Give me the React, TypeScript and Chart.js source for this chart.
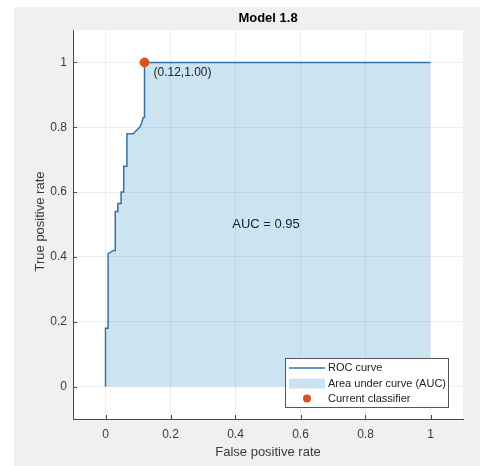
import React, { useEffect, useRef } from 'react';
import { Chart, registerables } from 'chart.js';

Chart.register(...registerables);

// ROC curve vertices (false positive rate, true positive rate)
const FPR = [0, 0, 0.008, 0.008, 0.025, 0.03, 0.03, 0.038, 0.038, 0.048, 0.048, 0.056, 0.056, 0.066, 0.066, 0.085, 0.095, 0.105, 0.11, 0.116, 0.12, 0.12, 1.0];
const TPR = [0, 0.18, 0.18, 0.41, 0.42, 0.42, 0.54, 0.54, 0.565, 0.565, 0.6, 0.6, 0.68, 0.68, 0.78, 0.78, 0.79, 0.8, 0.81, 0.83, 0.83, 1.0, 1.0];

// Current classifier operating point
const CLASSIFIER_FPR = [0.12];
const CLASSIFIER_TPR = [1.0];

const AUC_VALUE = 0.95;
const TITLE = 'Model 1.8';
const X_LABEL = 'False positive rate';
const Y_LABEL = 'True positive rate';
const X_TICKS = [0, 0.2, 0.4, 0.6, 0.8, 1];
const X_TICK_LABELS = ['0', '0.2', '0.4', '0.6', '0.8', '1'];
const Y_TICKS = [0, 0.2, 0.4, 0.6, 0.8, 1];
const Y_TICK_LABELS = ['0', '0.2', '0.4', '0.6', '0.8', '1'];
const LEGEND_LABELS = ['ROC curve', 'Area under curve (AUC)', 'Current classifier'];

const FONT = '"Liberation Sans", Arial, Helvetica, sans-serif';
const LINE_COLOR = '#3572a6';
const FILL_COLOR = 'rgba(0,114,189,0.2)';
const DOT_COLOR = '#d95319';
const AXIS_COLOR = '#4a4a4a';
const TEXT_COLOR = '#3a3a3a';
const GRID_COLOR = 'rgba(38,38,38,0.08)';

export default function App() {
  const ref = useRef<HTMLCanvasElement>(null);

  useEffect(() => {
    const canvas = ref.current!;

    const background = {
      id: 'bgPanel',
      beforeDraw(chart: any) {
        const { ctx, chartArea } = chart;
        ctx.save();
        ctx.fillStyle = '#ffffff';
        ctx.fillRect(0, 0, chart.width, chart.height);
        ctx.fillStyle = '#f0f0f0';
        ctx.fillRect(14, 7, chart.width - 14, chart.height - 7);
        ctx.fillStyle = '#ffffff';
        ctx.fillRect(chartArea.left, chartArea.top, chartArea.right - chartArea.left, chartArea.bottom - chartArea.top);
        ctx.restore();
      },
    };

    const overlay = {
      id: 'overlay',
      afterDraw(chart: any) {
        const { ctx, chartArea } = chart;
        const xs = chart.scales.x;
        const ys = chart.scales.y;
        const cx = (chartArea.left + chartArea.right) / 2;
        const cy = (chartArea.top + chartArea.bottom) / 2;
        ctx.save();

        // inward tick marks
        ctx.strokeStyle = AXIS_COLOR;
        ctx.lineWidth = 1;
        ctx.beginPath();
        X_TICKS.forEach((v) => {
          const px = Math.round(xs.getPixelForValue(v)) + 0.5;
          ctx.moveTo(px, chartArea.bottom);
          ctx.lineTo(px, chartArea.bottom - 4);
        });
        Y_TICKS.forEach((v) => {
          const py = Math.round(ys.getPixelForValue(v)) + 0.5;
          ctx.moveTo(chartArea.left, py);
          ctx.lineTo(chartArea.left + 4, py);
        });
        ctx.stroke();

        // title
        ctx.fillStyle = '#000000';
        ctx.font = `bold 13px ${FONT}`;
        ctx.textAlign = 'center';
        ctx.textBaseline = 'middle';
        ctx.fillText(TITLE, cx, 18);

        // axis titles
        ctx.fillStyle = TEXT_COLOR;
        ctx.font = `13px ${FONT}`;
        ctx.fillText(X_LABEL, cx, 452);
        ctx.save();
        ctx.translate(40, cy - 3);
        ctx.rotate(-Math.PI / 2);
        ctx.fillText(Y_LABEL, 0, 0);
        ctx.restore();

        // annotations
        ctx.fillStyle = '#222222';
        ctx.font = `12px ${FONT}`;
        ctx.textAlign = 'left';
        const dx = xs.getPixelForValue(CLASSIFIER_FPR[0]);
        const dy = ys.getPixelForValue(CLASSIFIER_TPR[0]);
        ctx.fillText(`(${CLASSIFIER_FPR[0].toFixed(2)},${CLASSIFIER_TPR[0].toFixed(2)})`, dx + 9, dy + 10);
        ctx.font = `13px ${FONT}`;
        ctx.fillText(`AUC = ${AUC_VALUE.toFixed(2)}`, xs.getPixelForValue(0.39), ys.getPixelForValue(0.5));

        // legend
        const lx = 285, ly = 358, lw = 163, lh = 49;
        ctx.fillStyle = '#ffffff';
        ctx.fillRect(lx, ly, lw, lh);
        ctx.strokeStyle = '#555555';
        ctx.lineWidth = 1;
        ctx.strokeRect(lx + 0.5, ly + 0.5, lw, lh);
        const rows = [368, 383.5, 398.5];
        const sx0 = 289, sx1 = 325, tx = 328;
        // line sample
        ctx.strokeStyle = LINE_COLOR;
        ctx.lineWidth = 1.6;
        ctx.beginPath();
        ctx.moveTo(sx0, rows[0]);
        ctx.lineTo(sx1, rows[0]);
        ctx.stroke();
        // patch sample
        ctx.fillStyle = FILL_COLOR;
        ctx.fillRect(sx0, rows[1] - 5, sx1 - sx0, 10);
        // dot sample
        ctx.fillStyle = DOT_COLOR;
        ctx.beginPath();
        ctx.arc((sx0 + sx1) / 2, rows[2], 4, 0, Math.PI * 2);
        ctx.fill();
        ctx.fillStyle = '#222222';
        ctx.font = `11px ${FONT}`;
        ctx.textAlign = 'left';
        LEGEND_LABELS.forEach((t, i) => ctx.fillText(t, tx, rows[i]));

        ctx.restore();
      },
    };

    const rocData = FPR.map((x, i) => ({ x, y: TPR[i] }));
    const dotData = CLASSIFIER_FPR.map((x, i) => ({ x, y: CLASSIFIER_TPR[i] }));

    const chart = new Chart(canvas, {
      type: 'scatter',
      data: {
        datasets: [
          {
            label: 'Current classifier',
            data: dotData,
            showLine: false,
            pointRadius: 4.5,
            pointBackgroundColor: DOT_COLOR,
            pointBorderColor: DOT_COLOR,
            order: 0,
          } as any,
          {
            label: 'ROC curve',
            data: rocData,
            showLine: true,
            borderColor: LINE_COLOR,
            borderWidth: 1.5,
            backgroundColor: FILL_COLOR,
            fill: 'origin',
            pointRadius: 0,
            tension: 0,
            order: 1,
          } as any,
        ],
      },
      options: {
        responsive: false,
        animation: false,
        devicePixelRatio: 1,
        layout: { padding: { top: 30, right: 17, left: 0, bottom: 0 } },
        plugins: {
          legend: { display: false },
          tooltip: { enabled: false },
          title: { display: false },
        },
        scales: {
          x: {
            type: 'linear',
            min: -0.1,
            max: 1.1,
            afterBuildTicks: (s: any) => {
              s.ticks = X_TICKS.map((v) => ({ value: v }));
            },
            afterFit: (s: any) => {
              s.height = 47;
            },
            grid: { color: GRID_COLOR, drawTicks: false },
            border: { display: true, color: AXIS_COLOR, width: 1 },
            ticks: {
              padding: 8,
              color: TEXT_COLOR,
              font: { family: FONT, size: 12 },
              callback: (v: any) => X_TICK_LABELS[X_TICKS.indexOf(v)] ?? String(v),
              maxRotation: 0,
            },
          },
          y: {
            type: 'linear',
            min: -0.1,
            max: 1.1,
            afterBuildTicks: (s: any) => {
              s.ticks = Y_TICKS.map((v) => ({ value: v }));
            },
            afterFit: (s: any) => {
              s.width = 73;
            },
            grid: { color: GRID_COLOR, drawTicks: false },
            border: { display: true, color: AXIS_COLOR, width: 1 },
            ticks: {
              padding: 6,
              color: TEXT_COLOR,
              font: { family: FONT, size: 12 },
              callback: (v: any) => Y_TICK_LABELS[Y_TICKS.indexOf(v)] ?? String(v),
            },
          },
        },
      },
      plugins: [background, overlay],
    });

    return () => chart.destroy();
  }, []);

  return (
    <div style={{ position: 'fixed', left: 0, top: 0, width: 480, height: 466 }}>
      <canvas ref={ref} width={480} height={466} style={{ width: 480, height: 466, display: 'block' }} />
    </div>
  );
}
